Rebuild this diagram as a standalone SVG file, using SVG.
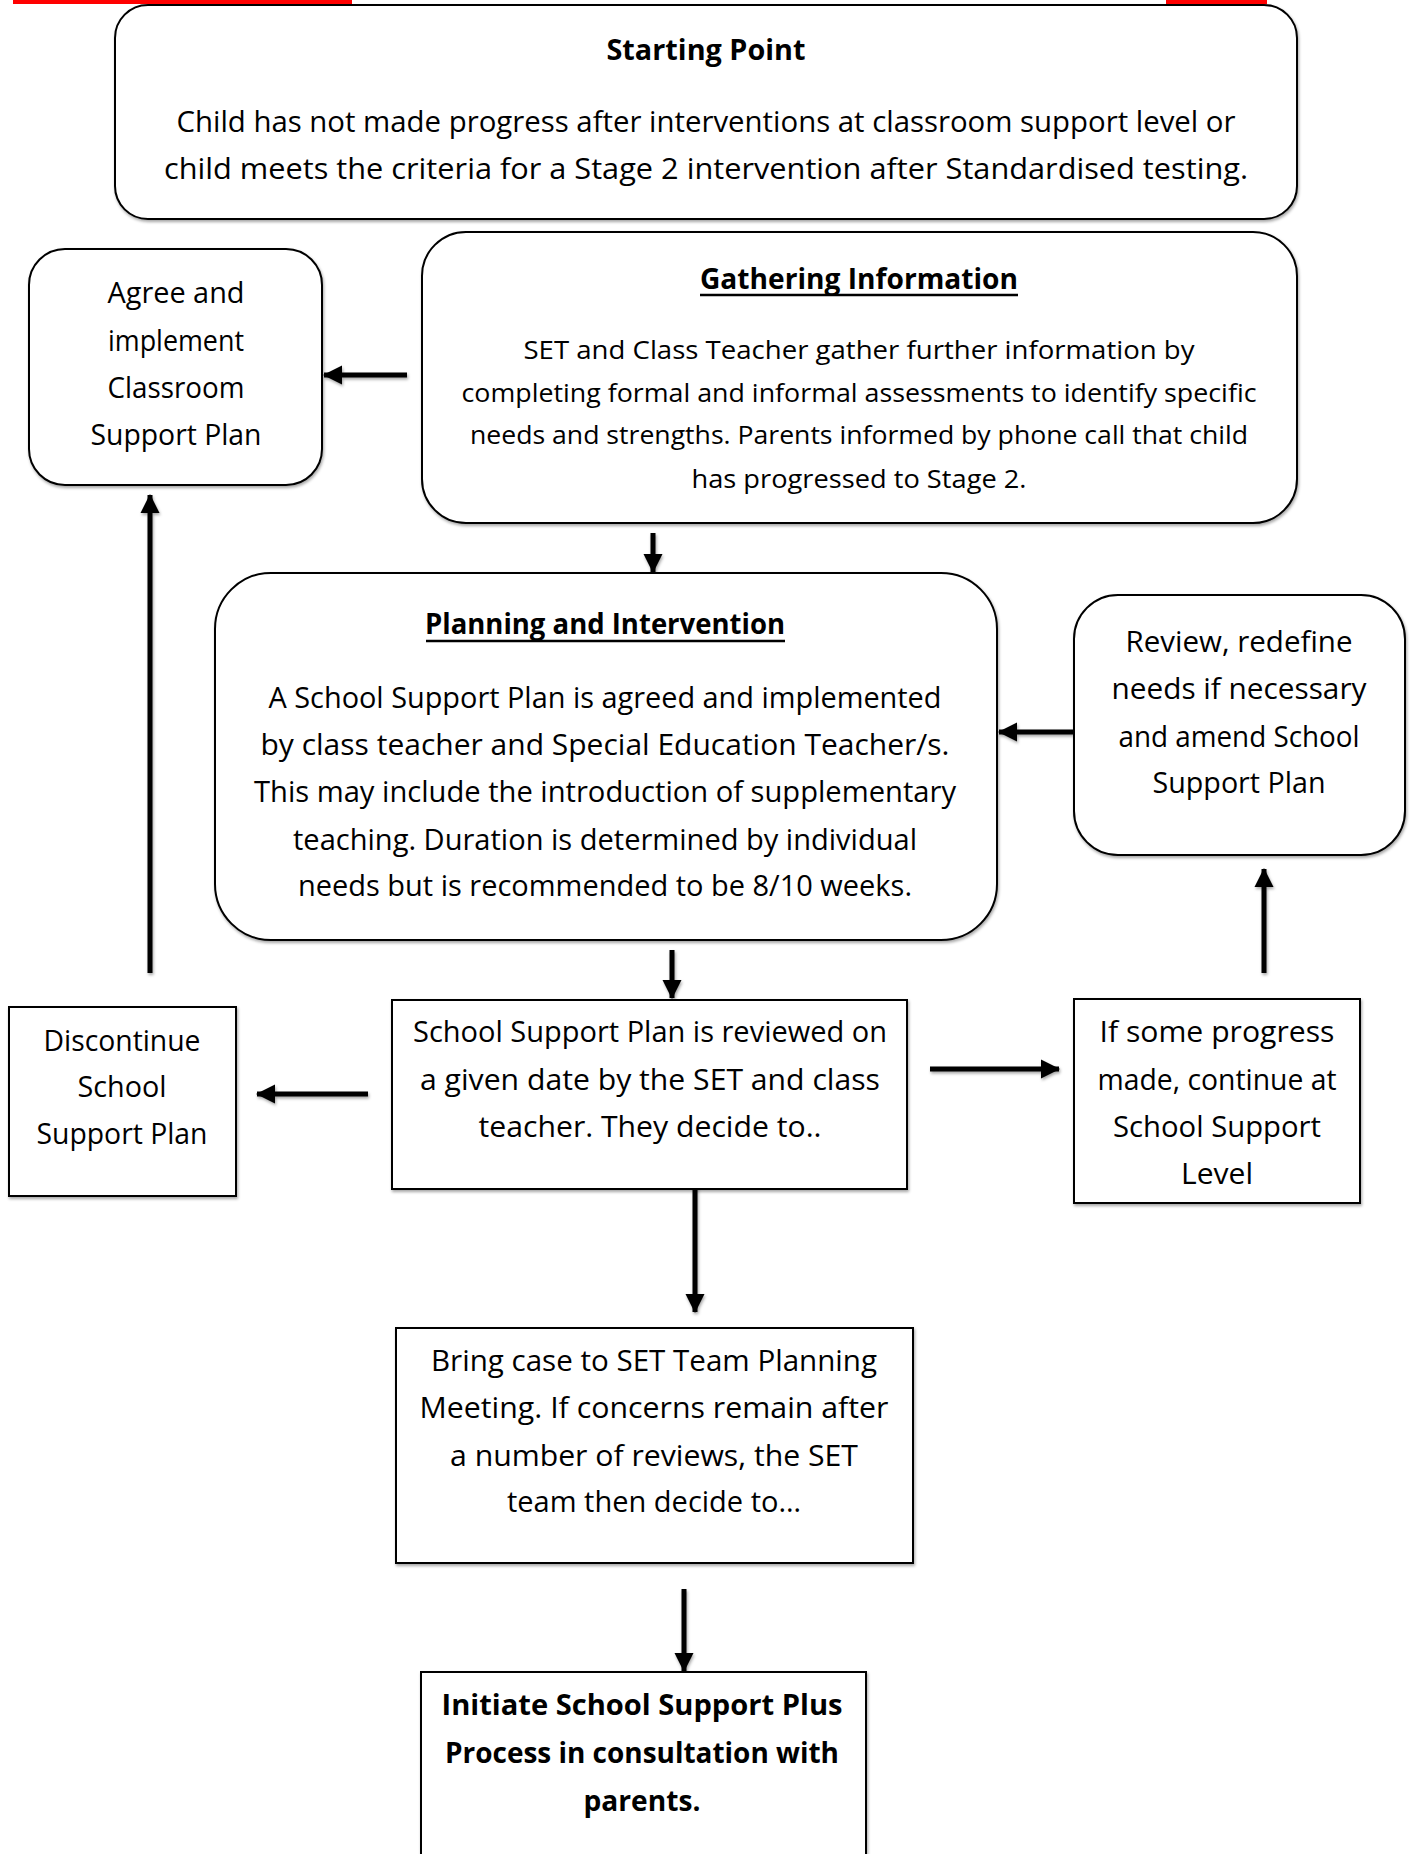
<svg xmlns="http://www.w3.org/2000/svg" width="1412" height="1854" viewBox="0 0 1412 1854">
  <style>
    .box { fill: #ffffff; stroke: #000000; stroke-width: 2; }
    .t { font-family: "Open Sans", "DejaVu Sans", sans-serif; font-size: 29px; fill: #000000; text-anchor: middle; }
    .s { font-size: 26px; }
    .b { font-weight: bold; }
    .conn { stroke: #000000; fill: none; stroke-width: 5; }
  </style>
  <defs>
    <filter id="shadow" x="-5%" y="-5%" width="110%" height="115%">
      <feDropShadow dx="1" dy="2" stdDeviation="1.5" flood-color="#000000" flood-opacity="0.35"/>
    </filter>
    <marker id="head" markerUnits="userSpaceOnUse" markerWidth="22" markerHeight="22" refX="18" refY="11" orient="auto">
      <path d="M0,1.5 L19,11 L0,20.5 Z" fill="#000000"/>
    </marker>
  </defs>

  <rect x="0" y="0" width="1412" height="1854" fill="#ffffff"/>

  <!-- connectors -->
  <g id="connectors" filter="url(#shadow)">
    <line class="conn" x1="407" y1="375" x2="324" y2="375" marker-end="url(#head)"/>
    <line class="conn" x1="653" y1="533" x2="653" y2="572" marker-end="url(#head)"/>
    <line class="conn" x1="1073" y1="732" x2="999" y2="732" marker-end="url(#head)"/>
    <line class="conn" x1="1264" y1="973" x2="1264" y2="869" marker-end="url(#head)"/>
    <line class="conn" x1="150" y1="973" x2="150" y2="495" marker-end="url(#head)"/>
    <line class="conn" x1="672" y1="950" x2="672" y2="998" marker-end="url(#head)"/>
    <line class="conn" x1="368" y1="1094" x2="257" y2="1094" marker-end="url(#head)"/>
    <line class="conn" x1="930" y1="1069" x2="1059" y2="1069" marker-end="url(#head)"/>
    <line class="conn" x1="695" y1="1162" x2="695" y2="1312" marker-end="url(#head)"/>
    <line class="conn" x1="684" y1="1589" x2="684" y2="1671" marker-end="url(#head)"/>
  </g>

  <!-- Starting Point -->
  <g id="starting-point">
    <rect class="box" x="115" y="5" width="1182" height="214" rx="33" ry="33" filter="url(#shadow)"/>
    <text class="t b" x="706" y="60" textLength="199" lengthAdjust="spacingAndGlyphs">Starting Point</text>
    <text class="t" x="706" y="132" textLength="1059" lengthAdjust="spacingAndGlyphs">Child has not made progress after interventions at classroom support level or</text>
    <text class="t" x="706" y="179" textLength="1084" lengthAdjust="spacingAndGlyphs">child meets the criteria for a Stage 2 intervention after Standardised testing.</text>
  </g>

  <!-- page header bars -->
  <rect x="13" y="0" width="339" height="4" fill="#ff0000"/>
  <rect x="1166" y="0" width="101" height="4" fill="#ff0000"/>

  <!-- Agree and implement Classroom Support Plan -->
  <g id="classroom-support">
    <rect class="box" x="29" y="249" width="293" height="236" rx="36" ry="36" filter="url(#shadow)"/>
    <text class="t" x="176" y="303" textLength="137" lengthAdjust="spacingAndGlyphs">Agree and</text>
    <text class="t" x="176" y="351" textLength="136" lengthAdjust="spacingAndGlyphs">implement</text>
    <text class="t" x="176" y="398" textLength="137" lengthAdjust="spacingAndGlyphs">Classroom</text>
    <text class="t" x="176" y="445" textLength="171" lengthAdjust="spacingAndGlyphs">Support Plan</text>
  </g>

  <!-- Gathering Information -->
  <g id="gathering-information">
    <rect class="box" x="422" y="232" width="875" height="291" rx="44" ry="44" filter="url(#shadow)"/>
    <text class="t b" x="859" y="289" textLength="318" lengthAdjust="spacingAndGlyphs">Gathering Information</text>
    <line x1="700" y1="295" x2="1018" y2="295" stroke="#000000" stroke-width="2.5"/>
    <text class="t s" x="859" y="359" textLength="671" lengthAdjust="spacingAndGlyphs">SET and Class Teacher gather further information by</text>
    <text class="t s" x="859" y="402" textLength="795" lengthAdjust="spacingAndGlyphs">completing formal and informal assessments to identify specific</text>
    <text class="t s" x="859" y="444" textLength="778" lengthAdjust="spacingAndGlyphs">needs and strengths. Parents informed by phone call that child</text>
    <text class="t s" x="859" y="488" textLength="335" lengthAdjust="spacingAndGlyphs">has progressed to Stage 2.</text>
  </g>

  <!-- Planning and Intervention -->
  <g id="planning-intervention">
    <rect class="box" x="215" y="573" width="782" height="367" rx="56" ry="56" filter="url(#shadow)"/>
    <text class="t b" x="605" y="634" textLength="360" lengthAdjust="spacingAndGlyphs">Planning and Intervention</text>
    <line x1="426" y1="641" x2="785" y2="641" stroke="#000000" stroke-width="2.5"/>
    <text class="t" x="605" y="708" textLength="673" lengthAdjust="spacingAndGlyphs">A School Support Plan is agreed and implemented</text>
    <text class="t" x="605" y="755" textLength="689" lengthAdjust="spacingAndGlyphs">by class teacher and Special Education Teacher/s.</text>
    <text class="t" x="605" y="802" textLength="702" lengthAdjust="spacingAndGlyphs">This may include the introduction of supplementary</text>
    <text class="t" x="605" y="850" textLength="624" lengthAdjust="spacingAndGlyphs">teaching. Duration is determined by individual</text>
    <text class="t" x="605" y="896" textLength="614" lengthAdjust="spacingAndGlyphs">needs but is recommended to be 8/10 weeks.</text>
  </g>

  <!-- Review, redefine needs -->
  <g id="review-redefine">
    <rect class="box" x="1074" y="595" width="331" height="260" rx="44" ry="44" filter="url(#shadow)"/>
    <text class="t" x="1239" y="652" textLength="227" lengthAdjust="spacingAndGlyphs">Review, redefine</text>
    <text class="t" x="1239" y="699" textLength="255" lengthAdjust="spacingAndGlyphs">needs if necessary</text>
    <text class="t" x="1239" y="747" textLength="241" lengthAdjust="spacingAndGlyphs">and amend School</text>
    <text class="t" x="1239" y="793" textLength="173" lengthAdjust="spacingAndGlyphs">Support Plan</text>
  </g>

  <!-- School Support Plan reviewed -->
  <g id="plan-reviewed">
    <rect class="box" x="392" y="1000" width="515" height="189" filter="url(#shadow)"/>
    <text class="t" x="650" y="1042" textLength="474" lengthAdjust="spacingAndGlyphs">School Support Plan is reviewed on</text>
    <text class="t" x="650" y="1090" textLength="460" lengthAdjust="spacingAndGlyphs">a given date by the SET and class</text>
    <text class="t" x="650" y="1137" textLength="343" lengthAdjust="spacingAndGlyphs">teacher. They decide to..</text>
  </g>

  <!-- Discontinue School Support Plan -->
  <g id="discontinue">
    <rect class="box" x="9" y="1007" width="227" height="189" filter="url(#shadow)"/>
    <text class="t" x="122" y="1051" textLength="157" lengthAdjust="spacingAndGlyphs">Discontinue</text>
    <text class="t" x="122" y="1097" textLength="89" lengthAdjust="spacingAndGlyphs">School</text>
    <text class="t" x="122" y="1144" textLength="171" lengthAdjust="spacingAndGlyphs">Support Plan</text>
  </g>

  <!-- Continue at School Support Level -->
  <g id="continue-level">
    <rect class="box" x="1074" y="999" width="286" height="204" filter="url(#shadow)"/>
    <text class="t" x="1217" y="1042" textLength="235" lengthAdjust="spacingAndGlyphs">If some progress</text>
    <text class="t" x="1217" y="1090" textLength="239" lengthAdjust="spacingAndGlyphs">made, continue at</text>
    <text class="t" x="1217" y="1137" textLength="208" lengthAdjust="spacingAndGlyphs">School Support</text>
    <text class="t" x="1217" y="1184" textLength="72" lengthAdjust="spacingAndGlyphs">Level</text>
  </g>

  <!-- SET Team Planning Meeting -->
  <g id="team-meeting">
    <rect class="box" x="396" y="1328" width="517" height="235" filter="url(#shadow)"/>
    <text class="t" x="654" y="1371" textLength="446" lengthAdjust="spacingAndGlyphs">Bring case to SET Team Planning</text>
    <text class="t" x="654" y="1418" textLength="469" lengthAdjust="spacingAndGlyphs">Meeting. If concerns remain after</text>
    <text class="t" x="654" y="1466" textLength="408" lengthAdjust="spacingAndGlyphs">a number of reviews, the SET</text>
    <text class="t" x="654" y="1512" textLength="294" lengthAdjust="spacingAndGlyphs">team then decide to…</text>
  </g>

  <!-- School Support Plus -->
  <g id="support-plus">
    <rect class="box" x="421" y="1672" width="445" height="200" filter="url(#shadow)"/>
    <text class="t b" x="642" y="1715" textLength="401" lengthAdjust="spacingAndGlyphs">Initiate School Support Plus</text>
    <text class="t b" x="642" y="1763" textLength="394" lengthAdjust="spacingAndGlyphs">Process in consultation with</text>
    <text class="t b" x="642" y="1811" textLength="117" lengthAdjust="spacingAndGlyphs">parents.</text>
  </g>
</svg>
